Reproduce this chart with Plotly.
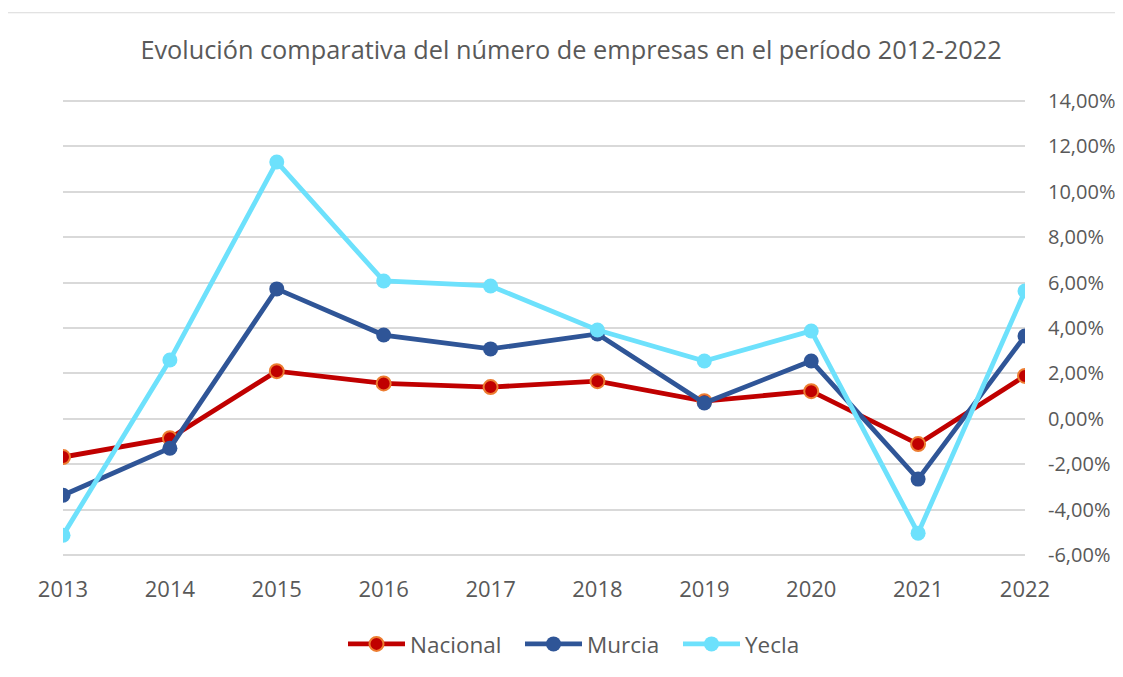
import plotly.graph_objects as go

years = [2013, 2014, 2015, 2016, 2017, 2018, 2019, 2020, 2021, 2022]
nacional = [-1.68, -0.85, 2.10, 1.56, 1.40, 1.66, 0.78, 1.22, -1.11, 1.89]
murcia = [-3.36, -1.29, 5.72, 3.69, 3.08, 3.74, 0.70, 2.55, -2.65, 3.65]
yecla = [-5.12, 2.59, 11.31, 6.07, 5.85, 3.91, 2.55, 3.87, -5.03, 5.63]
ytick_vals = [-6, -4, -2, 0, 2, 4, 6, 8, 10, 12, 14]
ytick_text = ["-6,00%", "-4,00%", "-2,00%", "0,00%", "2,00%", "4,00%",
              "6,00%", "8,00%", "10,00%", "12,00%", "14,00%"]

font_family = "Open Sans, Noto Sans, sans-serif"
grey = "#595959"

# page body has a default 8px margin: work in screen coordinates, then offset
D = 8
W, H = 1123, 677
EXT = 0.08  # small range padding so the edge gridlines are drawn
grid_top, grid_bot = 101, 555
per = (grid_bot - grid_top) / 20.0
L = 63 - D
T = grid_top - D - EXT * per
pw = 1025 - 63
ph = (20 + 2 * EXT) * per
R, B = W - L - pw, H - T - ph


def px(xs):
    return (xs - D - L) / pw


def py(ys):
    return 1 - (ys - D - T) / ph


fig = go.Figure()
fig.add_trace(go.Scatter(
    x=years, y=nacional, name="Nacional", mode="lines+markers", legend="legend",
    line=dict(color="#C00000", width=4.8),
    marker=dict(size=14, color="#C00000", line=dict(color="#ED7D31", width=2)),
))
fig.add_trace(go.Scatter(
    x=years, y=murcia, name="Murcia", mode="lines+markers", legend="legend2",
    line=dict(color="#2F5597", width=4.8),
    marker=dict(size=15, color="#2F5597"),
))
fig.add_trace(go.Scatter(
    x=years, y=yecla, name="Yecla", mode="lines+markers", legend="legend3",
    line=dict(color="#6DE1FC", width=4.8),
    marker=dict(size=15, color="#6DE1FC"),
))

leg_common = dict(orientation="h", xanchor="left", yanchor="middle",
                  font=dict(size=22.5, color=grey), itemwidth=57,
                  bgcolor="rgba(0,0,0,0)")

fig.update_layout(
    width=W, height=H,
    paper_bgcolor="white", plot_bgcolor="white",
    margin=dict(l=L, r=R, t=T, b=B, autoexpand=False),
    font=dict(family=font_family, color=grey),
    title=dict(text="Evolución comparativa del número de empresas en el período 2012-2022",
               x=(571 - D) / W, xanchor="center", y=1 - (50 - D) / H, yanchor="middle",
               font=dict(size=25.3, color=grey, family=font_family)),
    xaxis=dict(
        range=[2013, 2022], tickmode="array", tickvals=years,
        ticktext=[str(y) for y in years], automargin=False,
        showgrid=False, zeroline=False, showline=False,
        tickfont=dict(size=22, color=grey), ticks="",
        ticklabelstandoff=int(round(19 - EXT * per)),
    ),
    yaxis=dict(
        range=[-6 - EXT, 14 + EXT], side="right", automargin=False,
        tickmode="array", tickvals=ytick_vals, ticktext=ytick_text,
        showgrid=True, gridcolor="#D9D9D9", gridwidth=1.5,
        zeroline=False, showline=False, ticks="",
        tickfont=dict(size=20, color=grey), ticklabelstandoff=22,
    ),
    legend=dict(x=px(351 - 8), y=py(644), **leg_common),
    legend2=dict(x=px(528 - 8), y=py(644), **leg_common),
    legend3=dict(x=px(686 - 8), y=py(644), **leg_common),
    showlegend=True,
)
fig.add_shape(type="rect", xref="paper", yref="paper",
              x0=px(4), x1=px(W + 40),
              y0=py(H + 40), y1=py(13),
              line=dict(color="#D9D9D9", width=1), fillcolor="rgba(0,0,0,0)", layer="below")

fig.write_html("out.html")
